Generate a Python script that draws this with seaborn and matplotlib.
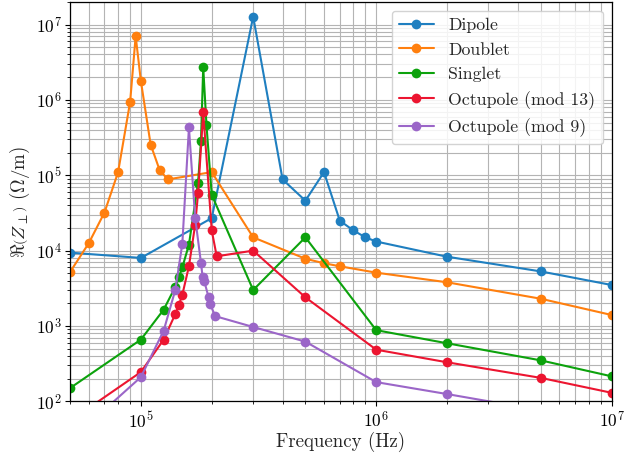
import numpy as np
import pandas as pd
import matplotlib
matplotlib.use("Agg")
import matplotlib.pyplot as plt
import seaborn as sns

# ---- data ----
series_names = ["Dipole", "Doublet", "Singlet", "Octupole (mod 13)", "Octupole (mod 9)"]
series_colors = ["#1f7fc0", "#ff7f0e", "#0ca20c", "#ec1530", "#9b66c8"]

dipole_f = [5e4, 1e5, 2e5, 3e5, 4e5, 5e5, 6e5, 7e5, 8e5, 9e5, 1e6, 2e6, 5e6, 1e7]
dipole_z = [9.4e3, 8.0e3, 2.7e4, 1.27e7, 8.8e4, 4.6e4, 1.1e5, 2.5e4, 1.85e4, 1.5e4, 1.32e4, 8.3e3, 5.3e3, 3.5e3]

doublet_f = [5e4, 6e4, 7e4, 8e4, 9e4, 9.5e4, 1e5, 1.1e5, 1.2e5, 1.3e5, 2e5, 3e5, 5e5, 6e5, 7e5, 1e6, 2e6, 5e6, 1e7]
doublet_z = [5.2e3, 1.25e4, 3.2e4, 1.1e5, 9.4e5, 7.0e6, 1.77e6, 2.55e5, 1.18e5, 8.8e4, 1.1e5, 1.5e4, 7.8e3, 6.8e3, 6.2e3, 5.1e3, 3.8e3, 2.3e3, 1.4e3]

singlet_f = [5e4, 1e5, 1.25e5, 1.4e5, 1.45e5, 1.5e5, 1.6e5, 1.75e5, 1.8e5, 1.84e5, 1.9e5, 2e5, 3e5, 5e5, 1e6, 2e6, 5e6, 1e7]
singlet_z = [150, 660, 1.65e3, 3.3e3, 4.4e3, 6.0e3, 1.2e4, 8.0e4, 2.85e5, 2.7e6, 4.6e5, 5.5e4, 3.0e3, 1.5e4, 880, 590, 350, 215]

oct13_f = [5e4, 1e5, 1.25e5, 1.4e5, 1.45e5, 1.5e5, 1.6e5, 1.7e5, 1.75e5, 1.84e5, 2e5, 2.1e5, 3e5, 5e5, 1e6, 2e6, 5e6, 1e7]
oct13_z = [55, 245, 660, 1.44e3, 1.9e3, 2.6e3, 6.2e3, 2.2e4, 5.8e4, 6.9e5, 1.85e4, 8.4e3, 1.0e4, 2.4e3, 485, 330, 205, 130]

oct9_f = [5e4, 1e5, 1.25e5, 1.4e5, 1.5e5, 1.6e5, 1.7e5, 1.8e5, 1.83e5, 1.86e5, 1.94e5, 1.97e5, 2.07e5, 3e5, 5e5, 1e6, 2e6, 5e6, 1e7]
oct9_z = [30, 210, 870, 3.0e3, 1.24e4, 4.3e5, 2.75e4, 6.9e3, 4.4e3, 3.9e3, 2.4e3, 1.94e3, 1.35e3, 970, 620, 180, 125, 76, 48]

all_f = [dipole_f, doublet_f, singlet_f, oct13_f, oct9_f]
all_z = [dipole_z, doublet_z, singlet_z, oct13_z, oct9_z]

frames = []
for name, f, z in zip(series_names, all_f, all_z):
    frames.append(pd.DataFrame({"Frequency": f, "Z": z, "Mode": name}))
df = pd.concat(frames, ignore_index=True)

# ---- style ----
sns.set_theme(style="ticks", context="notebook")
plt.rcParams.update({
    "font.family": "serif",
    "font.serif": ["cmr10", "DejaVu Serif"],
    "mathtext.fontset": "cm",
    "axes.formatter.use_mathtext": True,
    "font.size": 12.5,
    "axes.labelsize": 13.6,
    "xtick.labelsize": 12.5,
    "ytick.labelsize": 12.5,
    "legend.fontsize": 12.8,
    "axes.edgecolor": "black",
    "axes.linewidth": 0.9,
    "xtick.direction": "out",
    "ytick.direction": "out",
    "xtick.color": "black",
    "ytick.color": "black",
})

fig = plt.figure(figsize=(6.37, 4.53), dpi=100)
ax = fig.add_axes([0.110, 0.114, 0.850, 0.882])

sns.lineplot(data=df, x="Frequency", y="Z", hue="Mode", hue_order=series_names,
             palette=series_colors, estimator=None, sort=False, marker="o",
             markersize=7, markeredgewidth=0, linewidth=1.5, ax=ax)

ax.set_xscale("log")
ax.set_yscale("log")
ax.set_xlim(5e4, 1e7)
ax.set_ylim(1e2, 2e7)

ax.grid(True, which="major", color="#b4b4b4", linewidth=0.8)
ax.grid(True, which="minor", color="#b4b4b4", linewidth=0.8)
ax.set_axisbelow(True)
ax.tick_params(which="major", length=3.5, width=0.8, pad=2.5)
ax.tick_params(which="minor", length=2, width=0.6)

ax.set_xlabel("Frequency (Hz)", labelpad=1)
ax.set_ylabel(r"$\Re\left(Z_{\perp}\right)$ $(\Omega/\mathrm{m})$", labelpad=3)

leg = ax.legend(loc="upper right", frameon=True, fancybox=True, framealpha=0.85,
                edgecolor="#cccccc", labelspacing=0.5)
leg.set_title(None)

fig.savefig("out.png", dpi=100)
